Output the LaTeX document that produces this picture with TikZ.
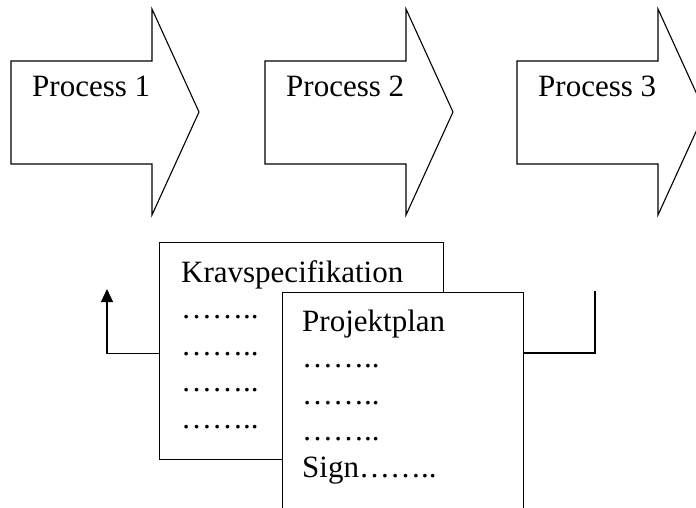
\documentclass[tikz,border=0pt]{standalone}
\usepackage{fontspec}
\setmainfont{Liberation Serif}
\usetikzlibrary{arrows.meta,calc}

\tikzset{
  shape line/.style={line width=1.1pt, line join=miter},
  label txt/.style={font=\fontsize{31}{36.5}\selectfont, inner sep=0pt, anchor=base west},
  doc box/.style={draw, line width=1.1pt, fill=white, anchor=north west, inner sep=0pt},
}

\begin{document}
\begin{tikzpicture}[x=1pt, y=-1pt]
  \clip (0,0) rectangle (696,508);
  % process arrows
  \foreach \x/\n in {11/1, 265/2, 517/3} {
    \draw[shape line] (\x,61) -- (\x+141,61) -- (\x+141,9) -- (\x+188,112)
      -- (\x+141,215) -- (\x+141,164) -- (\x,164) -- cycle;
    \node[label txt] (p\n) at (\x+21,97) {Process \n};
  }
  % documents
  \node[doc box, minimum width=284pt, minimum height=217pt] (krav) at (159,242) {};
  \node[label txt] at ($(krav.north west)+(22,40)$) {Kravspecifikation};
  \foreach \i in {1,...,4}
    \node[label txt] at ($(krav.north west)+(22,40+36.5*\i)$) {……..};
  \node[doc box, minimum width=241pt, minimum height=240pt] (plan) at (282,292) {};
  \node[label txt] at ($(plan.north west)+(20,39)$) {Projektplan};
  \foreach \i in {1,...,3}
    \node[label txt] at ($(plan.north west)+(20,39+36.5*\i)$) {……..};
  \node[label txt] at ($(plan.north west)+(20,39+36.5*4)$) {Sign……..};
  % loops
  \coordinate (back) at (107,289);
  \coordinate (fwd) at (595,291);
  \draw[shape line, -{Triangle[length=13pt,width=12pt]}] ([yshift=-2.5pt]krav.west) -| (back);
  \draw[shape line] ($(plan.north east)+(0,61)$) -| (fwd);
\end{tikzpicture}
\end{document}
